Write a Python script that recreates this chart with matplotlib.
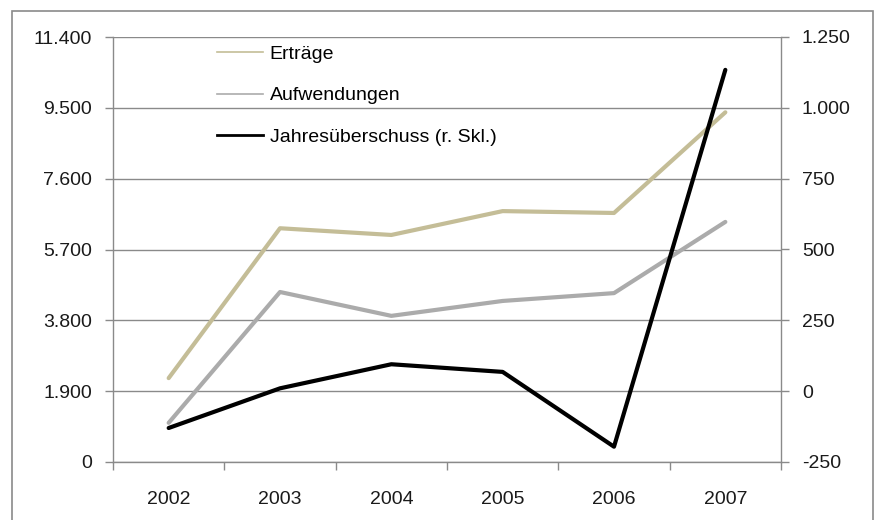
import matplotlib
matplotlib.use('Agg')
import matplotlib.pyplot as plt
from matplotlib.lines import Line2D
from matplotlib.patches import Rectangle
from matplotlib.ticker import FuncFormatter, FixedLocator

plt.rcParams['font.family'] = ['Liberation Sans', 'DejaVu Sans']

years = ['2002', '2003', '2004', '2005', '2006', '2007']
ertraege = [2250, 6270, 6090, 6730, 6680, 9380]
aufwendungen = [1050, 4560, 3920, 4320, 4530, 6440]
jahresueberschuss = [-130, 10, 95, 68, -196, 1134]

left_ticks = [0, 1900, 3800, 5700, 7600, 9500, 11400]
right_ticks = [-250, 0, 250, 500, 750, 1000, 1250]

C_TAN = '#C4BD97'
C_GRAY = '#ABABAB'
C_GRID = '#8A8A8A'
FS = 14

W, H = 875, 520
fig = plt.figure(figsize=(W / 100, H / 100), dpi=100)
# outer frame (bottom edge lies below the picture)
fig.add_artist(Rectangle((12 / W, -0.1), 861 / W, 1.1 - 11 / H, transform=fig.transFigure,
                         fill=False, edgecolor=C_GRID, lw=1.2))

ax = fig.add_axes([113 / W, 1 - 462 / H, 668 / W, 425 / H])
ax2 = ax.twinx()

x = list(range(len(years)))
ax.plot(x, ertraege, color=C_TAN, lw=3, solid_capstyle='round', zorder=3)
ax.plot(x, aufwendungen, color=C_GRAY, lw=3, solid_capstyle='round', zorder=3)
ax2.plot(x, jahresueberschuss, color='black', lw=3, solid_capstyle='round', zorder=3)

fmt = FuncFormatter(lambda v, p: f'{v:,.0f}'.replace(',', '.'))

ax.set_xlim(-0.5, len(years) - 0.5)
ax.set_ylim(left_ticks[0], left_ticks[-1])
ax2.set_ylim(right_ticks[0], right_ticks[-1])
ax.set_yticks(left_ticks)
ax2.set_yticks(right_ticks)
ax.yaxis.set_major_formatter(fmt)
ax2.yaxis.set_major_formatter(fmt)

ax.set_xticks(x)
ax.set_xticklabels(years)
ax.xaxis.set_minor_locator(FixedLocator([i - 0.5 for i in range(len(years) + 1)]))
ax.tick_params(axis='x', which='major', length=0, pad=21, labelsize=FS, labelcolor='#1a1a1a')
ax.tick_params(axis='x', which='minor', length=6, width=1, color=C_GRID, direction='out')
ax.tick_params(axis='y', length=6, width=1, color=C_GRID, pad=9, labelsize=FS, labelcolor='#1a1a1a')
ax2.tick_params(axis='y', length=6, width=1, color=C_GRID, pad=9, labelsize=FS, labelcolor='#1a1a1a')

ax.grid(axis='y', color=C_GRID, lw=1)
ax.set_axisbelow(True)
for a in (ax, ax2):
    a.spines['top'].set_visible(False)
    for s in ('left', 'right', 'bottom'):
        a.spines[s].set_color(C_GRID)
        a.spines[s].set_linewidth(1)
ax2.spines['left'].set_visible(False)
ax2.spines['bottom'].set_visible(False)
ax.spines['right'].set_visible(False)
ax2.patch.set_visible(False)

handles = [Line2D([], [], color=C_TAN, lw=1.2),
           Line2D([], [], color=C_GRAY, lw=1.2),
           Line2D([], [], color='black', lw=2)]
labels = ['Erträge', 'Aufwendungen', 'Jahresüberschuss (r. Skl.)']
fig.legend(handles, labels, loc='upper left', bbox_to_anchor=(217 / W, 1 - 45 / H),
           frameon=False, borderpad=0, borderaxespad=0, handlelength=2.35,
           handletextpad=0.35, labelspacing=1.24, fontsize=FS)

fig.savefig('out.png', dpi=100)
